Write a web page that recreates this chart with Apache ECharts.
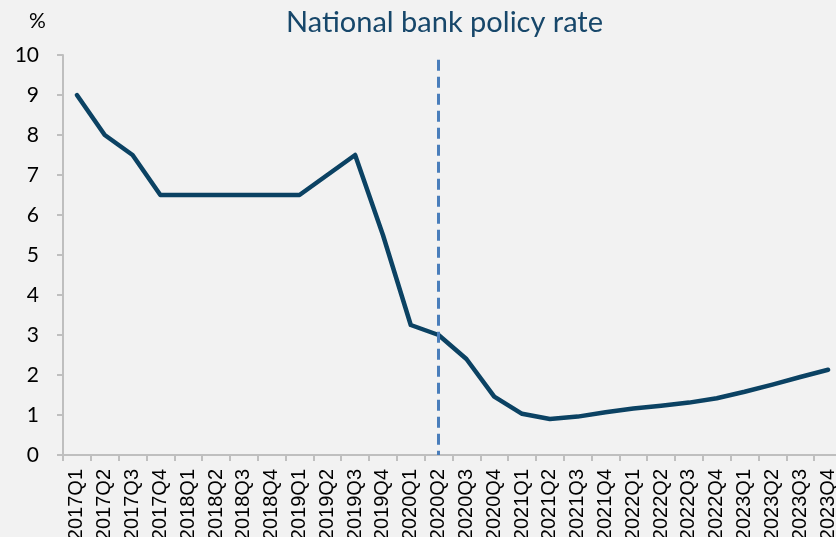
<!DOCTYPE html>
<html>
<head>
<meta charset="utf-8">
<script src="https://cdn.jsdelivr.net/npm/echarts@6/dist/echarts.min.js"></script>
<style>
  html, body { margin: 0; padding: 0; background: #f2f2f2; }
  #chart { width: 836px; height: 537px; }
</style>
</head>
<body>
<div id="chart"></div>
<script>
// 季度类目
const quarters = [
    '2017Q1', '2017Q2', '2017Q3', '2017Q4',
    '2018Q1', '2018Q2', '2018Q3', '2018Q4',
    '2019Q1', '2019Q2', '2019Q3', '2019Q4',
    '2020Q1', '2020Q2', '2020Q3', '2020Q4',
    '2021Q1', '2021Q2', '2021Q3', '2021Q4',
    '2022Q1', '2022Q2', '2022Q3', '2022Q4',
    '2023Q1', '2023Q2', '2023Q3', '2023Q4'
];
// 政策利率 (%)
const policyRate = [
    9.0, 8.0, 7.5, 6.5,
    6.5, 6.5, 6.5, 6.5,
    6.5, 7.0, 7.5, 5.5,
    3.25, 3.0, 2.4, 1.46,
    1.03, 0.9, 0.96, 1.07,
    1.16, 1.23, 1.31, 1.42,
    1.58, 1.76, 1.95, 2.13
];
const yTicks = [0, 1, 2, 3, 4, 5, 6, 7, 8, 9, 10];
// 虚线所在季度及其上端
const markQuarter = '2020Q2';
const markTop = 9.88;

const axisGrey = '#bfbfbf';

const option = {
    backgroundColor: '#f2f2f2',
    animation: false,
    title: [{
        text: 'National bank policy rate',
        left: 281,
        top: 3,
        textStyle: {
            fontFamily: 'Lato',
            fontWeight: 'normal',
            fontSize: 29,
            color: '#17476a'
        }
    }, {
        text: '%',
        left: 24,
        top: 6,
        textStyle: {
            fontFamily: 'Lato',
            fontWeight: 'normal',
            fontSize: 21,
            color: '#000'
        }
    }],
    grid: {
        left: 63,
        right: -6,
        top: 55,
        bottom: 82,
        containLabel: false,
        outerBoundsMode: 'none'
    },
    xAxis: {
        type: 'category',
        data: quarters,
        boundaryGap: true,
        axisLine: {lineStyle: {color: axisGrey, width: 2}},
        axisTick: {show: true, length: 6, lineStyle: {color: axisGrey, width: 2}},
        axisLabel: {
            rotate: 90,
            interval: 0,
            margin: 14,
            fontFamily: 'Liberation Sans',
            fontSize: 20,
            color: '#000'
        },
        splitLine: {show: false}
    },
    yAxis: {
        type: 'value',
        min: yTicks[0],
        max: yTicks[yTicks.length - 1],
        interval: 1,
        axisLine: {show: true, lineStyle: {color: axisGrey, width: 2}},
        axisTick: {show: true, length: 6, lineStyle: {color: axisGrey, width: 2}},
        axisLabel: {
            margin: 24,
            fontFamily: 'Lato',
            fontSize: 21,
            color: '#000'
        },
        splitLine: {show: false}
    },
    series: [{
        name: 'Policy rate',
        type: 'line',
        data: policyRate,
        symbol: 'none',
        lineStyle: {color: '#0b4263', width: 4.5, cap: 'round', join: 'round'},
        markLine: {
            silent: true,
            symbol: ['none', 'none'],
            label: {show: false},
            lineStyle: {color: '#4a7ebb', width: 3, type: [11, 6]},
            data: [[
                {coord: [markQuarter, markTop]},
                {coord: [markQuarter, 0]}
            ]]
        }
    }]
};

const chart = echarts.init(document.getElementById('chart'));
chart.setOption(option);
</script>
</body>
</html>
